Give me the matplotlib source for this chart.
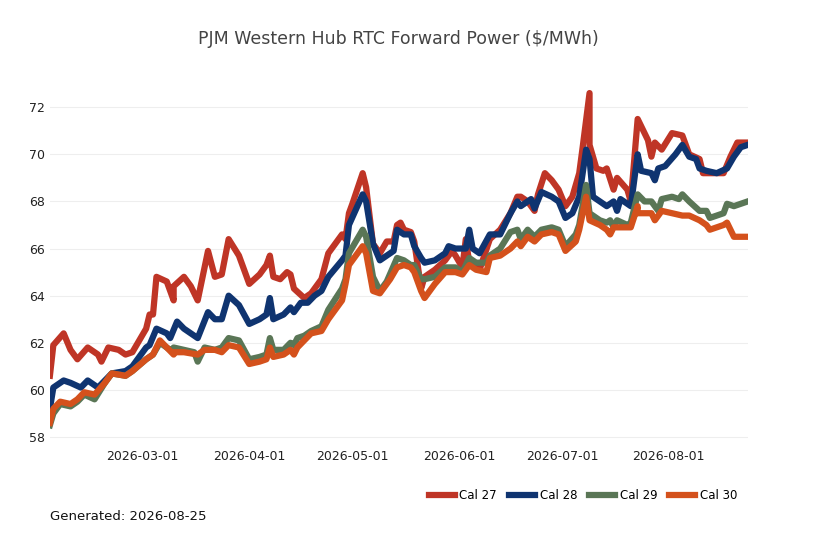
import matplotlib
matplotlib.use("Agg")
import matplotlib.pyplot as plt
import matplotlib.dates as mdates
import datetime as dt

start = dt.date(2026, 2, 2)

d27 = [0,1,4,6,8,11,14,15,17,20,22,24,28,29,30,31,34,36,36,39,41,43,46,48,50,52,55,58,61,63,64,65,67,69,70,71,74,76,79,81,85,86,87,88,91,92,94,96,98,100,101,102,103,105,106,108,109,112,115,117,118,120,121,122,125,128,131,134,136,137,139,141,142,144,146,148,150,152,154,155,157,157,159,161,162,164,165,168,169,171,174,175,176,178,181,184,186,189,190,192,196,198,200,203]
v27 = [60.6,61.9,62.4,61.7,61.3,61.8,61.5,61.2,61.8,61.7,61.5,61.6,62.6,63.2,63.2,64.8,64.6,63.8,64.4,64.8,64.4,63.8,65.9,64.8,64.9,66.4,65.7,64.5,64.9,65.3,65.7,64.8,64.7,65.0,64.9,64.3,63.9,64.1,64.7,65.8,66.6,66.4,67.5,67.9,69.2,68.6,66.2,65.8,66.3,66.3,67.0,67.1,66.8,66.7,66.3,64.3,64.8,65.1,65.5,65.9,65.7,65.2,66.4,65.4,65.1,66.4,66.8,67.5,68.2,68.2,68.0,67.6,68.3,69.2,68.9,68.5,67.8,68.2,69.2,70.3,72.6,70.4,69.4,69.3,69.4,68.5,69.0,68.5,68.0,71.5,70.6,69.9,70.5,70.2,70.9,70.8,70.0,69.8,69.2,69.2,69.2,69.9,70.5,70.5]

d28 = [0,1,4,6,9,11,14,16,18,22,24,28,29,31,34,35,37,39,43,46,48,50,52,55,58,61,63,64,65,68,70,71,73,75,77,79,81,85,86,87,91,92,94,96,98,100,101,103,105,106,108,109,112,115,116,118,121,122,123,125,128,131,134,136,137,140,141,143,146,148,150,152,154,156,157,158,160,162,164,165,166,169,171,172,175,176,177,179,182,184,186,188,189,191,194,197,199,201,203]
v28 = [59.2,60.1,60.4,60.3,60.1,60.4,60.1,60.4,60.7,60.8,61.0,61.8,61.9,62.6,62.4,62.2,62.9,62.6,62.2,63.3,63.0,63.0,64.0,63.6,62.8,63.0,63.2,63.9,63.0,63.2,63.5,63.3,63.7,63.7,64.0,64.2,64.8,65.5,65.7,67.0,68.3,68.0,66.2,65.5,65.7,65.9,66.8,66.6,66.6,66.1,65.6,65.4,65.5,65.8,66.1,66.0,66.0,66.8,66.0,65.8,66.6,66.6,67.5,68.0,67.8,68.1,67.7,68.4,68.2,68.0,67.3,67.5,68.2,70.2,69.8,68.2,68.0,67.8,68.0,67.6,68.1,67.8,70.0,69.3,69.2,68.9,69.4,69.5,70.0,70.4,69.9,69.8,69.4,69.3,69.2,69.4,69.9,70.3,70.4]

d29 = [0,1,3,6,8,10,13,16,18,22,24,28,30,32,34,36,36,39,42,43,45,48,50,52,55,58,61,63,64,65,68,70,71,72,74,76,79,81,85,86,87,91,92,94,96,98,101,103,105,106,108,109,112,115,118,120,122,124,127,128,131,134,136,137,139,141,143,146,148,150,153,154,156,157,160,162,163,164,165,168,169,171,171,173,175,177,178,181,183,184,186,189,191,192,196,197,199,203]
v29 = [58.5,59.0,59.4,59.3,59.5,59.8,59.6,60.3,60.7,60.6,60.8,61.3,61.5,62.0,61.8,61.6,61.8,61.7,61.6,61.2,61.8,61.7,61.8,62.2,62.1,61.3,61.4,61.5,62.2,61.7,61.7,62.0,61.9,62.2,62.3,62.5,62.7,63.4,64.3,64.7,65.8,66.8,66.5,64.8,64.2,64.6,65.6,65.5,65.3,65.3,64.7,64.7,64.8,65.2,65.2,65.0,65.6,65.4,65.4,65.7,66.0,66.7,66.8,66.4,66.8,66.5,66.8,66.9,66.8,66.1,66.6,67.0,68.7,67.5,67.2,67.1,67.2,66.9,67.2,67.0,67.1,68.3,68.3,68.0,68.0,67.6,68.1,68.2,68.1,68.3,68.0,67.6,67.6,67.3,67.5,67.9,67.8,68.0]

d30 = [0,1,3,6,8,10,13,16,18,22,24,28,30,32,34,36,36,39,43,45,48,50,52,55,58,61,63,64,65,68,70,71,72,74,76,79,81,85,86,87,91,92,94,96,98,99,101,103,105,106,108,109,112,115,118,120,122,124,127,128,131,134,136,137,139,141,143,146,148,150,153,154,156,157,160,162,163,164,166,169,171,171,173,175,176,178,181,184,186,189,191,192,196,197,199,203]
v30 = [58.6,59.2,59.5,59.4,59.6,59.9,59.8,60.3,60.7,60.6,60.8,61.3,61.5,62.1,61.8,61.5,61.6,61.6,61.5,61.7,61.7,61.6,61.9,61.8,61.1,61.2,61.3,61.8,61.4,61.5,61.7,61.5,61.8,62.1,62.4,62.5,63.0,63.8,64.5,65.3,66.1,65.8,64.2,64.1,64.5,64.7,65.2,65.3,65.2,65.0,64.2,63.9,64.5,65.0,65.0,64.9,65.3,65.1,65.0,65.6,65.7,66.0,66.3,66.1,66.5,66.3,66.6,66.7,66.6,65.9,66.3,66.8,68.2,67.2,67.0,66.8,66.6,66.9,66.9,66.9,67.8,67.5,67.5,67.5,67.2,67.6,67.5,67.4,67.4,67.2,67.0,66.8,67.0,67.1,66.5,66.5]

series = [("Cal 27", d27, v27, "#bf3526"),
          ("Cal 28", d28, v28, "#0f3470"),
          ("Cal 29", d29, v29, "#5a7656"),
          ("Cal 30", d30, v30, "#d4511c")]
yticks = [58, 60, 62, 64, 66, 68, 70, 72]

fig = plt.figure(figsize=(8.18, 5.45), dpi=100)
ax = fig.add_axes([0.061, 0.183, 0.853, 0.67])
for name, d, v, c in series:
    n = min(len(d), len(v))
    dates = [start + dt.timedelta(days=int(x)) for x in d[:n]]
    ax.plot(dates, v[:n], color=c, lw=4.5, label=name, solid_joinstyle="round")
ax.set_xlim(start, start + dt.timedelta(days=203))
ax.set_ylim(57.65, 73.15)
ax.set_yticks(yticks)
ax.xaxis.set_major_locator(mdates.MonthLocator(bymonth=[3, 4, 5, 6, 7, 8]))
ax.xaxis.set_major_formatter(mdates.DateFormatter("%Y-%m-%d"))
ax.grid(axis="y", color="#eeeeee", lw=0.8)
ax.set_axisbelow(True)
for s in ax.spines.values():
    s.set_visible(False)
ax.tick_params(length=0, labelsize=9, colors="#222222")
fig.text(0.487, 0.928, "PJM Western Hub RTC Forward Power ($/MWh)", ha="center",
         va="center", fontsize=12.5, color="#444444")
ax.legend(loc="upper right", bbox_to_anchor=(1.0, -0.09), ncol=4, frameon=False,
          fontsize=8.5, handlelength=2.2, columnspacing=1.0, handletextpad=0.4)
fig.text(0.061, 0.045, "Generated: 2026-08-25", fontsize=9.5, color="#111111")
fig.savefig("out.png", dpi=100)
